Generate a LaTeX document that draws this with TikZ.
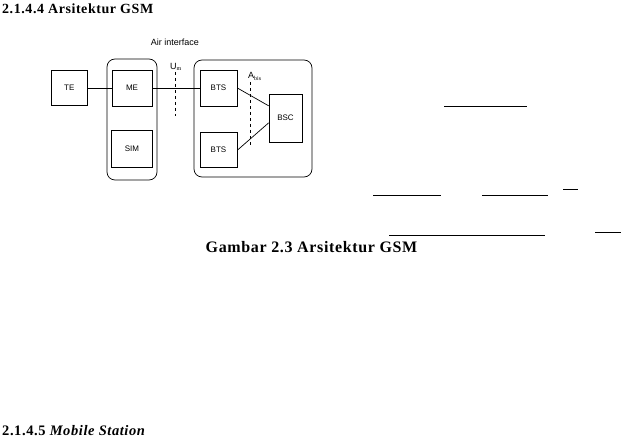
\documentclass[tikz,border=0pt]{standalone}
\usepackage{fontspec}
\setmainfont{Liberation Serif}
\setsansfont{Liberation Sans}
\usetikzlibrary{positioning,calc}

\tikzset{
  box/.style={draw,line width=.7pt,inner sep=0pt,font=\sffamily\fontsize{8}{9}\selectfont},
  group/.style={draw,line width=.7pt,rounded corners=8pt,inner sep=0pt},
  iface/.style={dashed,line width=.7pt},
  lbl/.style={inner sep=0pt,font=\sffamily\fontsize{9}{10}\selectfont},
  head/.style={inner sep=0pt,font=\bfseries\fontsize{#1}{18}\selectfont\addfontfeature{LetterSpace=4}}
}

\begin{document}
\begin{tikzpicture}[x=1pt,y=-1pt]
      \useasboundingbox (0,0) rectangle (621,438);
      \node[head=14,anchor=base west] at (2,14)(title){2.1.4.4 Arsitektur GSM};

      % mobile station
      \node[group,minimum width=50pt,minimum height=121pt] at (132,119.5)(ms){};
      \node[box,minimum width=40pt,minimum height=36pt] at (132,88)(me){ME};
      \node[box,minimum width=41pt,minimum height=37pt,below=24pt of me](sim){SIM};
      \node[box,minimum width=36pt,minimum height=35pt,left=24pt of me](te){TE};

      % base station subsystem
      \node[group,minimum width=118pt,minimum height=117pt] at (253,118.5)(bss){};
      \node[box,minimum width=37pt,minimum height=36pt] at (218.5,88)(bts1){BTS};
      \node[box,minimum width=37pt,minimum height=35pt,below=26pt of bts1](bts2){BTS};
      \node[box,minimum width=33pt,minimum height=48pt] at (285.5,118)(bsc){BSC};

      % interfaces
      \coordinate (um1) at (175,72);
      \coordinate (um2) at (175,116);
      \coordinate (abis1) at (250,82);
      \coordinate (abis2) at (250,146);
      \draw[iface] (um1) -- (um2);
      \draw[iface] (abis1) -- (abis2);
      \node[lbl,anchor=base] at (175,46)(air){Air interface};
      \node[lbl,anchor=base west] at (170,70)(um){U$_\mathrm{m}$};
      \node[lbl,anchor=base west] at (248,79)(abis){A$_\mathrm{bis}$};

      \draw[line width=.7pt] (te) -- (me);
      \draw[line width=.7pt] (me) -- (bts1);
      \draw[line width=.7pt] (bts1.east) -- ($(bsc.north west)!.25!(bsc.south west)$);
      \draw[line width=.7pt] (bts2.east) -- ($(bsc.north west)!.6!(bsc.south west)$);

      % stray rules on the right
      \foreach \xa/\xb/\y in {444/527/106,373/441/195,482/548/195,563/578/189,389/545/235,595/621/232}
        \draw[line width=.7pt] (\xa,\y) -- (\xb,\y);

      \node[head=16,anchor=base] at (311.5,253)(caption){Gambar 2.3 Arsitektur GSM};
      \node[head=14.5,anchor=base west] at (2,435)(next){2.1.4.5 \textit{Mobile Station}};
    \end{tikzpicture}
\end{document}
